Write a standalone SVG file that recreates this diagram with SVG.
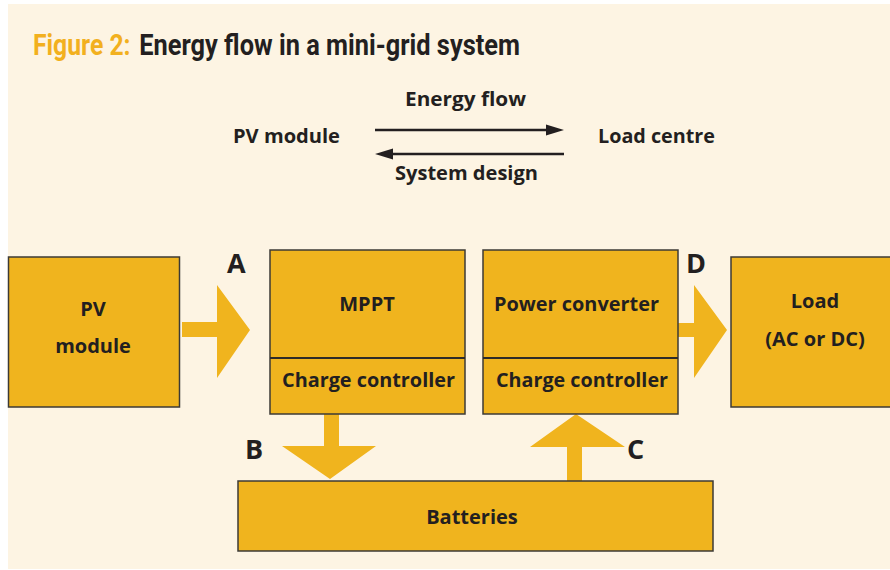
<svg xmlns="http://www.w3.org/2000/svg" width="890" height="570" viewBox="0 0 890 570">
<style>
.bg{fill:#FDF4E3}
.box{fill:#F0B41E;stroke:#3C3A36;stroke-width:1.5}
.div{stroke:#2E2B28;stroke-width:2}
.t{font-family:"Open Sans","Noto Sans","Liberation Sans",sans-serif;font-weight:700;fill:#231F20}
.b{font-size:20px;text-anchor:middle}
.lg{font-size:20px}
.lbl{font-size:27px}
.ttl{font-family:Roboto,"Liberation Sans",sans-serif;font-weight:700;font-size:30px}
.arr{fill:#F0B41E}
.ln{stroke:#231F20;stroke-width:2.5;fill:none}
.hd{fill:#231F20}
</style>
<rect x="0" y="0" width="890" height="570" fill="#FFFFFF"/>
<rect class="bg" x="8" y="4" width="882" height="565"/>

<g id="title" transform="scale(0.8,1)">
<text class="ttl" x="41.25" y="55" fill="#F2B01E" textLength="122" lengthAdjust="spacingAndGlyphs">Figure 2:</text>
<text class="ttl" x="174" y="55" fill="#231F20" textLength="476" lengthAdjust="spacingAndGlyphs">Energy flow in a mini-grid system</text>
</g>

<g id="legend">
<text class="t lg" x="405" y="106" textLength="121" lengthAdjust="spacingAndGlyphs">Energy flow</text>
<text class="t lg" x="233" y="143" textLength="107" lengthAdjust="spacingAndGlyphs">PV module</text>
<text class="t lg" x="598" y="143" textLength="117" lengthAdjust="spacingAndGlyphs">Load centre</text>
<text class="t lg" x="395" y="180" textLength="143" lengthAdjust="spacingAndGlyphs">System design</text>
<line class="ln" x1="375" y1="130" x2="548" y2="130"/>
<polygon class="hd" points="546,124.5 564,130 546,135.5"/>
<line class="ln" x1="392" y1="154" x2="564" y2="154"/>
<polygon class="hd" points="393,148.5 375,154 393,159.5"/>
</g>

<g id="connectors">
<polygon id="arrow-A" class="arr" points="182,322 217,322 217,285 250,330 217,378 217,337 182,337"/>
<polygon id="arrow-D" class="arr" points="678,323 694,323 694,285 727,330 694,378 694,337 678,337"/>
<polygon id="arrow-B" class="arr" points="324,414 339,414 339,446 376,446 330,479 282,446 324,446"/>
<polygon id="arrow-C" class="arr" points="567,481 582,481 582,447 625,447 576,414 530,447 567,447"/>
</g>

<g id="pv-module">
<rect class="box" x="8.5" y="257" width="171" height="150"/>
<text class="t b" x="93" y="316">PV</text>
<text class="t b" x="93" y="353">module</text>
</g>

<g id="mppt-charge-controller">
<rect class="box" x="270" y="250" width="195" height="164"/>
<line class="div" x1="270" y1="358" x2="465" y2="358"/>
<text class="t b" x="367" y="311">MPPT</text>
<text class="t b" x="368.5" y="387" textLength="173" lengthAdjust="spacingAndGlyphs">Charge controller</text>
</g>

<g id="power-converter-charge-controller">
<rect class="box" x="483" y="250" width="195" height="164"/>
<line class="div" x1="483" y1="358" x2="678" y2="358"/>
<text class="t b" x="576.5" y="311" textLength="165" lengthAdjust="spacingAndGlyphs">Power converter</text>
<text class="t b" x="582" y="387" textLength="172" lengthAdjust="spacingAndGlyphs">Charge controller</text>
</g>

<g id="load">
<rect class="box" x="731" y="257" width="160" height="150"/>
<text class="t b" x="815" y="308">Load</text>
<text class="t b" x="815" y="346">(AC or DC)</text>
</g>

<g id="batteries">
<rect class="box" x="238" y="481" width="475" height="70"/>
<text class="t b" x="472" y="524">Batteries</text>
</g>

<g id="labels">
<text class="t lbl" x="227" y="273">A</text>
<text class="t lbl" x="245" y="459">B</text>
<text class="t lbl" x="627" y="459">C</text>
<text class="t lbl" x="686" y="273">D</text>
</g>
</svg>
